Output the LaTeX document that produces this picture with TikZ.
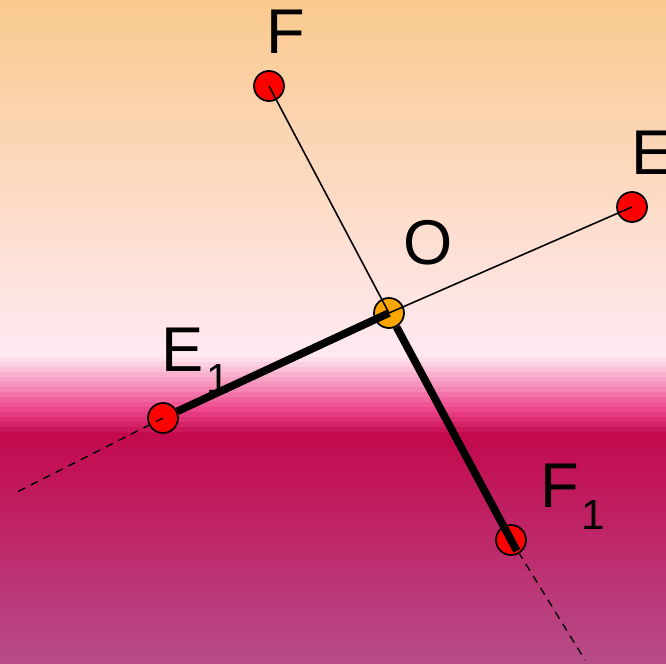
\documentclass[tikz,border=0pt]{standalone}
\usepackage{fontspec}
\setmainfont{Liberation Sans}
\definecolor{skytop}{RGB}{249,201,142}
\definecolor{skylow}{RGB}{255,232,238}
\definecolor{bandtop}{RGB}{255,222,236}
\definecolor{hotpink}{RGB}{238,70,140}
\definecolor{crimson}{RGB}{195,10,78}
\definecolor{plum}{RGB}{183,76,138}
\definecolor{dotorange}{RGB}{255,165,0}
\newcommand{\lowsub}[1]{\kern1.5pt\raisebox{-13pt}{\fontsize{24}{28}\selectfont #1}}
\begin{document}
\begin{tikzpicture}[
  x=0.02cm, y=-0.02cm,
  every node/.style={font=\fontsize{36}{40}\selectfont, inner sep=0pt},
  dot/.style={draw, circle, line width=1pt, minimum size=0.6cm, fill=red},
  thinline/.style={line width=0.9pt},
  thickline/.style={line width=4.4pt},
  extline/.style={line width=0.8pt, dash pattern=on 4.5pt off 3.5pt},
]
\useasboundingbox (0,0) rectangle (666,663);

% background
\shade[top color=skytop, bottom color=skylow] (0,0) rectangle (666,341);
\fill[skylow] (0,340) rectangle (666,358);
\foreach \i in {0,...,10} {
  \pgfmathtruncatemacro{\p}{\i*10}
  \fill[hotpink!\p!bandtop] (0,357+5*\i) rectangle (666,363+5*\i);
}
\foreach \i in {1,...,5} {
  \pgfmathtruncatemacro{\p}{\i*20}
  \fill[crimson!\p!hotpink] (0,407+5*\i) rectangle (666,413+5*\i);
}
\shade[top color=crimson, bottom color=plum] (0,437) rectangle (666,663);

% points
\node[dot] (f) at (269,86) {};
\node[dot] (e) at (632,207) {};
\node[dot, fill=dotorange] (o) at (389,313) {};
\node[dot] (e1) at (163,418) {};
\node[dot] (f1) at (511,540) {};

\coordinate (e1end) at (17,492);
\coordinate (f1end) at (585,660);

% labels
\node[anchor=base] (flabel) at (286,53) {F};
\node[anchor=base west] (elabel) at (631,174) {E};
\node (olabel) at (428,243) {O};
\node[anchor=base west] (e1label) at (161,371) {E\lowsub{1}};
\node[anchor=base west] (f1label) at (540,507) {F\lowsub{1}};

% segments
\draw[thinline] (o.center) -- (f.center);
\draw[thinline] (o.center) -- (e.center);
\draw[thickline] (o.center) -- (e1);
\draw[thickline, shorten >=-7pt] (o) -- (f1.center);
\draw[extline] (e1.center) -- (e1end);
\draw[extline] (f1.center) -- (f1end);
\end{tikzpicture}
\end{document}
